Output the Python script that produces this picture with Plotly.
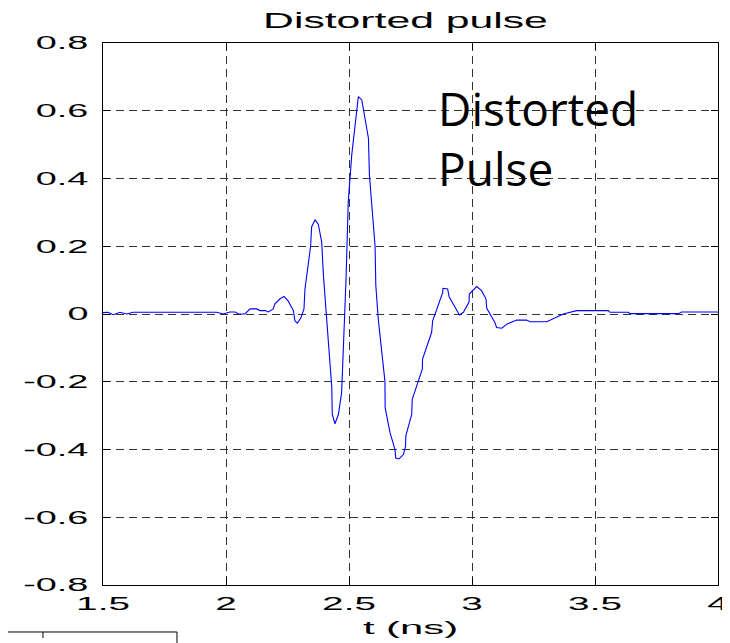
import plotly.graph_objects as go

# time (ns) and amplitude
t_ns = [1.500, 1.520, 1.542, 1.569, 1.596, 1.623, 1.700, 1.800, 1.900, 1.962,
        1.989, 2.016, 2.037, 2.050, 2.077, 2.098, 2.125, 2.138, 2.159, 2.172,
        2.192, 2.199, 2.220, 2.236, 2.253, 2.274, 2.280, 2.290, 2.304, 2.317,
        2.321, 2.344, 2.348, 2.362, 2.375, 2.389, 2.396, 2.430, 2.432, 2.443,
        2.457, 2.470, 2.488, 2.497, 2.511, 2.524, 2.538, 2.552, 2.579, 2.583,
        2.606, 2.609, 2.619, 2.646, 2.647, 2.667, 2.687, 2.690, 2.703, 2.721,
        2.730, 2.731, 2.755, 2.757, 2.782, 2.798, 2.799, 2.836, 2.840, 2.863,
        2.881, 2.882, 2.901, 2.907, 2.949, 2.965, 2.988, 2.989, 3.019, 3.039,
        3.057, 3.060, 3.093, 3.100, 3.121, 3.141, 3.182, 3.222, 3.236, 3.304,
        3.371, 3.426, 3.554, 3.561, 3.636, 3.642, 3.839, 3.852, 4.000]
amplitude = [0.004, 0.005, -0.002, 0.005, 0.000, 0.005, 0.005, 0.005, 0.005, 0.005,
             0.000, 0.006, 0.006, 0.000, 0.000, 0.015, 0.015, 0.010, 0.010, 0.006,
             0.015, 0.030, 0.045, 0.052, 0.038, 0.010, -0.020, -0.027, -0.012, 0.015,
             0.074, 0.200, 0.257, 0.278, 0.265, 0.213, 0.114, -0.217, -0.296, -0.324,
             -0.296, -0.232, 0.104, 0.331, 0.469, 0.558, 0.642, 0.632, 0.519, 0.410,
             0.200, 0.084, -0.015, -0.198, -0.277, -0.351, -0.400, -0.425, -0.428, -0.415,
             -0.390, -0.360, -0.296, -0.252, -0.198, -0.163, -0.133, -0.054, -0.020, 0.030,
             0.064, 0.076, 0.074, 0.051, -0.003, 0.005, 0.035, 0.059, 0.081, 0.069,
             0.044, 0.017, -0.025, -0.040, -0.042, -0.030, -0.018, -0.018, -0.023, -0.023,
             0.000, 0.010, 0.010, 0.005, 0.005, 0.001, 0.001, 0.006, 0.006]

x_ticks = [1.5, 2, 2.5, 3, 3.5, 4]
x_ticktext = ["1.5", "2", "2.5", "3", "3.5", "4"]
y_ticks = [-0.8, -0.6, -0.4, -0.2, 0, 0.2, 0.4, 0.6, 0.8]
y_ticktext = ["-0.8", "-0.6", "-0.4", "-0.2", "0", "0.2", "0.4", "0.6", "0.8"]

tick_font = dict(family="Liberation Sans", size=18, color="black")

fig = go.Figure()
fig.add_trace(go.Scatter(x=t_ns, y=amplitude, mode="lines",
                         line=dict(color="#0000FF", width=1.1),
                         showlegend=False, hoverinfo="skip"))

axis_common = dict(
    showline=True, linecolor="black", linewidth=1, mirror="ticks",
    ticks="inside", ticklen=7, tickcolor="black",
    showgrid=True, gridcolor="#333333", gridwidth=1, griddash="8px,5px",
    zeroline=False, tickfont=tick_font,
)

fig.update_xaxes(range=[1.5, 4], tickvals=x_ticks, ticktext=x_ticktext,
                 ticklabelstandoff=2,
                 title=dict(text="t (ns)", font=dict(family="Liberation Sans", size=19, color="black"),
                            standoff=8),
                 **axis_common)
fig.update_yaxes(range=[-0.8, 0.8], tickvals=y_ticks, ticktext=y_ticktext,
                 ticklabelstandoff=10, **axis_common)

fig.add_annotation(text="Distorted<br>Pulse", xref="paper", yref="paper",
                   x=0.5415, y=0.8247, xanchor="left", yanchor="middle", align="left",
                   showarrow=False,
                   font=dict(family="Open Sans", size=46, color="black"))

# fragment of a neighbouring frame visible at the bottom-left corner
fig.add_shape(type="line", xref="paper", yref="paper", x0=-0.1675, x1=0.1203,
              y0=-0.0867, y1=-0.0867, line=dict(color="black", width=1))
fig.add_shape(type="line", xref="paper", yref="paper", x0=0.1203, x1=0.1203,
              y0=-0.0867, y1=-0.12, line=dict(color="black", width=1))
fig.add_shape(type="line", xref="paper", yref="paper", x0=-0.0976, x1=-0.0976,
              y0=-0.0867, y1=-0.098, line=dict(color="black", width=1))

# the page body has an 8px default margin, so margins are reduced by 8px on top/left
fig.update_layout(
    width=730, height=643,
    margin=dict(l=95, r=20, t=35, b=66),
    paper_bgcolor="white", plot_bgcolor="white",
    title=dict(text="Distorted pulse", x=0.5445, xanchor="center", y=0.981, yanchor="middle",
               font=dict(family="Liberation Sans", size=22, color="black")),
)

# the original figure's text is horizontally stretched; widen the glyphs to match
post_js = """
var gd = document.getElementById('{plot_id}');
function stretch(sel, f) {
  gd.querySelectorAll(sel).forEach(function (el) {
    var w = el.getComputedTextLength();
    if (w > 0) {
      el.setAttribute('textLength', (w * f).toFixed(1));
      el.setAttribute('lengthAdjust', 'spacingAndGlyphs');
    }
  });
}
stretch('g.xtick text', 2.15);
stretch('g.ytick text', 2.1);
stretch('text.gtitle', 1.94);
stretch('text.xtitle', 2.2);
"""

fig.write_html("out.html", post_script=post_js)
